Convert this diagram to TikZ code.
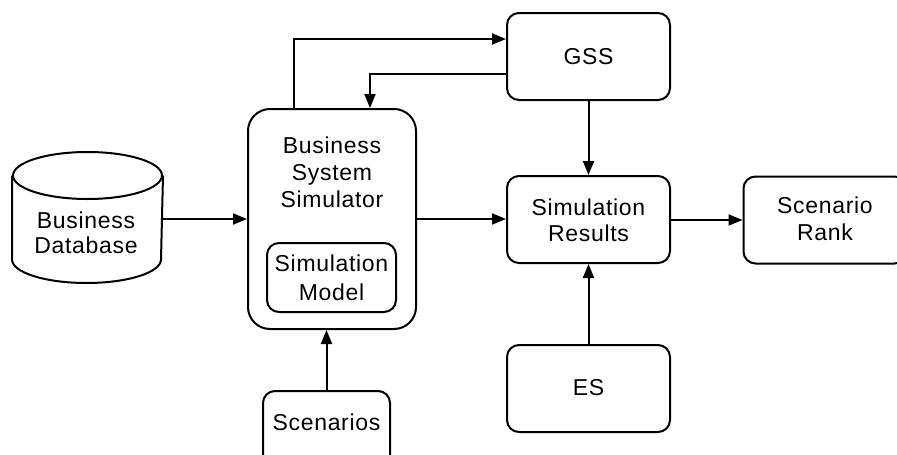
\documentclass[tikz,border=0pt]{standalone}
\usepackage{fontspec}
\setmainfont{Liberation Sans}[LetterSpace=3]
\usetikzlibrary{arrows.meta}
\begin{document}
\begin{tikzpicture}[x=1pt,y=-1pt,line width=2pt,
  box/.style={draw,rounded corners=12pt,minimum width=163pt,minimum height=87pt,inner sep=0pt},
  lbl/.style={align=center,inner sep=0pt,font=\fontsize{23}{27}\selectfont},
  arr/.style={-{Triangle[length=14pt,width=11pt]}}]
\useasboundingbox (0,0) rectangle (897,455);
\clip (0,0) rectangle (897,455);
% database cylinder
\node[minimum width=149pt,minimum height=129pt,inner sep=0pt] (db) at (87.5,217.5) {};
\draw ([yshift=-23.5pt]db.north) ellipse [x radius=74.5,y radius=23.5];
\draw ([yshift=-23.5pt]db.north west) -- ([yshift=23.5pt]db.south west)
  arc[start angle=180,end angle=0,x radius=74.5,y radius=23.5]
  -- ([yshift=-23.5pt]db.north east);
\node[lbl,font=\fontsize{23}{25}\selectfont] (dbt) at (86,232.5) {Business\\Database};
% simulator
\node[box,rounded corners=22pt,minimum width=168pt,minimum height=220pt] (sim) at (332,219) {};
\node[lbl] (simt) at (332,172.5) {Business\\System\\Simulator};
\node[box,minimum width=129pt,minimum height=69pt] (model) at (331.5,277.5) {};
\node[lbl,font=\fontsize{23}{29}\selectfont] (modelt) at (331.5,277.5) {Simulation\\Model};
% scenarios
\node[box,minimum width=127pt,minimum height=80pt] (scen) at (326.5,431) {};
\node[lbl] (scent) at (326.5,422) {Scenarios};
% GSS, results, ES, rank
\node[box] (gss) at (588.5,56.5) {};
\node[lbl] (gsst) at (588.5,56.5) {GSS};
\node[box] (res) at (588.5,219.5) {};
\node[lbl,font=\fontsize{23}{26}\selectfont] (rest) at (588.5,220) {Simulation\\Results};
\node[box] (es) at (588.5,388.5) {};
\node[lbl] (est) at (588.5,387.5) {ES};
\node[box] (rank) at (825,220) {};
\node[lbl,font=\fontsize{23}{27}\selectfont] (rankt) at (825,218.5) {Scenario\\Rank};
% connectors
\draw[arr] (db.east |- 0,219) -- (sim.west |- 0,219);
\draw[arr] (sim.east |- 0,219) -- (res.west |- 0,219);
\draw[arr] (res.east |- 0,220) -- (rank.west |- 0,220);
\draw[arr] (gss.south) -- (res.north);
\draw[arr] (es.north) -- (res.south);
\draw[arr] (scen.north |- 0,391) -- (scen.north |- sim.south);
\draw[arr] ([xshift=-38pt]sim.north) |- ([yshift=17.5pt]gss.west);
\draw[arr] ([yshift=-17.5pt]gss.west) -| ([xshift=38pt]sim.north);
\end{tikzpicture}
\end{document}
